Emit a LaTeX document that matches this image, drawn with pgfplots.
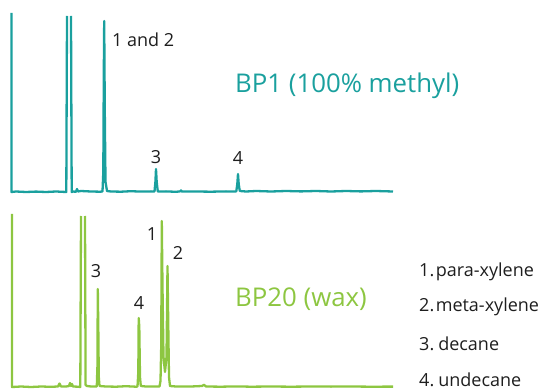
\documentclass[border=0pt]{standalone}
\usepackage{pgfplots}
\pgfplotsset{compat=1.18}
\usepackage{fontspec}
\setmainfont{Open Sans}
\definecolor{teal1}{RGB}{26,160,158}
\definecolor{green1}{RGB}{141,198,65}
\definecolor{txt}{RGB}{30,30,30}
\begin{document}
\begin{tikzpicture}
\useasboundingbox (0,0) rectangle (546pt,391pt);
\pgfplotsset{
  chrom/.style={scale only axis, width=382pt, xmin=0, xmax=382,
    hide axis, clip=false, enlargelimits=false, unbounded coords=jump},
}
\tikzset{
  lbl/.style={font=\fontsize{18}{20}\selectfont, text=txt, inner sep=0pt},
  ttl/.style={font=\fontsize{25.8}{28}\selectfont, inner sep=0pt, anchor=west},
}
% ---------------- BP1 ----------------
\begin{axis}[chrom, at={(11pt,199pt)}, anchor=south west, height=179pt, ymin=0, ymax=179]
\addplot[teal1, line width=2.3pt, line join=round] coordinates {
(0.5,179) (0.5,0) (5,0.5) (15,0) (25,0.4) (35,0) (45,0.5) (55.3,0)
(56,176) (nan,nan) (60,176) (60.7,0)
(62,0.5) (65,0.2) (66,3) (67,0.5) (70,1) (80,0.5) (89,0.3)
(91.5,0.5) (92.3,20) (92.8,120) (93.2,171) (93.8,80) (94.5,10) (96,1)
(100,0.5) (110,0.3) (120,0.8) (130,0.4) (140,0.6)
(143.5,0.5) (144.4,10) (145,23) (145.7,10) (146.8,0.5)
(155,0.6) (165,0.2) (169,0.6) (170,1.6) (171,0.4) (185,0.5) (200,0.3) (215,0.6) (224,0.4)
(225.3,0.7) (226.3,8) (227,18) (227.7,8) (228.8,1)
(235,0.5) (245,1) (260,0.5) (275,1) (290,0.6) (305,1) (320,0.5) (335,1) (350,0.6) (365,1) (382,0.5)
};
\node[lbl, anchor=west] at (axis cs:101,152) {1 and 2};
\node[lbl] at (axis cs:145,35) {3};
\node[lbl] at (axis cs:227,34) {4};
\node[ttl, text=teal1] at (axis cs:224,106) {BP1 (100\% methyl)};
\end{axis}
% ---------------- BP20 ----------------
\begin{axis}[chrom, at={(11pt,4pt)}, anchor=south west, height=173pt, ymin=0, ymax=173]
\addplot[green1, line width=2.3pt, line join=round] coordinates {
(1,173) (1,0) (10,0.5) (20,0) (30,0.5) (40,0.2) (47,0.5) (48.5,3.5) (50,0.5) (55,0.5)
(58,1) (59,4) (60,1) (61,3) (62,0.5) (67,0.3)
(69.3,0) (70,171) (nan,nan) (74,171) (74.6,2) (76,1) (80,0.5) (85,0.5)
(85.8,0.5) (86.4,20) (86.8,98) (87.3,60) (87.8,10) (88.5,1)
(95,0.5) (105,0.3) (115,0.8) (125,0.3)
(126.5,0.5) (127.3,15) (127.7,69) (128.3,60) (129,10) (129.8,1)
(135,0.5) (145,0.5)
(148.5,0.5) (149.5,6) (150.2,40) (150.8,166) (151.5,100) (152.5,30) (154,15) (155.5,30)
(156.5,121) (157.3,60) (158,10) (159,1)
(165,0.5) (180,0.5) (191,1) (193,2.2) (195,0.5) (210,0.3) (225,0.6) (240,0.3)
(260,0.5) (280,0.3) (300,0.5) (320,0.4) (340,0.5) (360,0.3) (382,0.4)
};
\node[lbl] at (axis cs:141,153) {1};
\node[lbl] at (axis cs:167,134) {2};
\node[lbl] at (axis cs:85,116) {3};
\node[lbl] at (axis cs:128,84) {4};
\node[ttl, text=green1] at (axis cs:224,88) {BP20 (wax)};
\node[lbl, anchor=west] at (axis cs:408,115) {1.\hspace{1.5pt}para-xylene};
\node[lbl, anchor=west] at (axis cs:408,80) {2.\hspace{1.5pt}meta-xylene};
\node[lbl, anchor=west] at (axis cs:408,43) {3.\hspace{4pt}decane};
\node[lbl, anchor=west] at (axis cs:408,7) {4.\hspace{4pt}undecane};
\end{axis}
\end{tikzpicture}
\end{document}
